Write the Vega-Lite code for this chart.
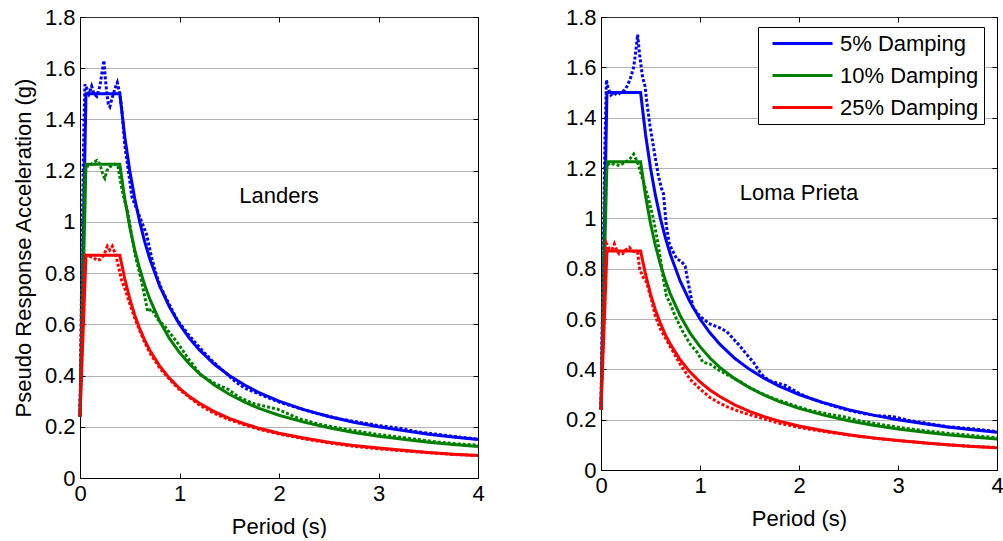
{
  "$schema": "https://vega.github.io/schema/vega-lite/v6.json",
  "background": "white",
  "padding": {"left": 12, "top": 5, "right": 0, "bottom": 0},
  "spacing": 79,
  "config": {
    "font": "Liberation Sans",
    "view": {"stroke": "black", "strokeWidth": 1},
    "axis": {
      "labelFont": "Liberation Sans", "labelFontSize": 22, "labelColor": "black", "labelFlush": false,
      "titleFont": "Liberation Sans", "titleFontSize": 22, "titleFontWeight": "normal", "titleColor": "black",
      "domainColor": "black", "tickColor": "black", "tickSize": -5,
      "gridColor": "#666666", "gridDash": [1, 1], "gridOpacity": 1, "gridWidth": 1
    },
    "axisX": {"grid": false, "titlePadding": 12, "labelPadding": 10},
    "axisY": {"titlePadding": 8.5, "labelPadding": 10},
    "text": {"font": "Liberation Sans", "fontSize": 22}
  },
  "resolve": {"scale": {"color": "independent"}},
  "datasets": {
    "target": [
      {"T": 0, "Sa": 0.24, "damping": "5% Damping"}, {"T": 0.06, "Sa": 1.5, "damping": "5% Damping"}, {"T": 0.4, "Sa": 1.5, "damping": "5% Damping"},
      {"T": 0.45, "Sa": 1.333, "damping": "5% Damping"}, {"T": 0.5, "Sa": 1.2, "damping": "5% Damping"}, {"T": 0.55, "Sa": 1.091, "damping": "5% Damping"},
      {"T": 0.6, "Sa": 1.0, "damping": "5% Damping"}, {"T": 0.65, "Sa": 0.923, "damping": "5% Damping"}, {"T": 0.7, "Sa": 0.857, "damping": "5% Damping"},
      {"T": 0.8, "Sa": 0.75, "damping": "5% Damping"}, {"T": 0.9, "Sa": 0.667, "damping": "5% Damping"}, {"T": 1.0, "Sa": 0.6, "damping": "5% Damping"},
      {"T": 1.1, "Sa": 0.545, "damping": "5% Damping"}, {"T": 1.2, "Sa": 0.5, "damping": "5% Damping"}, {"T": 1.35, "Sa": 0.444, "damping": "5% Damping"},
      {"T": 1.5, "Sa": 0.4, "damping": "5% Damping"}, {"T": 1.65, "Sa": 0.364, "damping": "5% Damping"}, {"T": 1.8, "Sa": 0.333, "damping": "5% Damping"},
      {"T": 2.0, "Sa": 0.3, "damping": "5% Damping"}, {"T": 2.25, "Sa": 0.267, "damping": "5% Damping"}, {"T": 2.5, "Sa": 0.24, "damping": "5% Damping"},
      {"T": 2.75, "Sa": 0.218, "damping": "5% Damping"}, {"T": 3.0, "Sa": 0.2, "damping": "5% Damping"}, {"T": 3.25, "Sa": 0.185, "damping": "5% Damping"},
      {"T": 3.5, "Sa": 0.171, "damping": "5% Damping"}, {"T": 3.75, "Sa": 0.16, "damping": "5% Damping"}, {"T": 4.0, "Sa": 0.15, "damping": "5% Damping"},

      {"T": 0, "Sa": 0.24, "damping": "10% Damping"}, {"T": 0.06, "Sa": 1.225, "damping": "10% Damping"}, {"T": 0.4, "Sa": 1.225, "damping": "10% Damping"},
      {"T": 0.45, "Sa": 1.089, "damping": "10% Damping"}, {"T": 0.5, "Sa": 0.98, "damping": "10% Damping"}, {"T": 0.55, "Sa": 0.891, "damping": "10% Damping"},
      {"T": 0.6, "Sa": 0.817, "damping": "10% Damping"}, {"T": 0.65, "Sa": 0.754, "damping": "10% Damping"}, {"T": 0.7, "Sa": 0.7, "damping": "10% Damping"},
      {"T": 0.8, "Sa": 0.613, "damping": "10% Damping"}, {"T": 0.9, "Sa": 0.544, "damping": "10% Damping"}, {"T": 1.0, "Sa": 0.49, "damping": "10% Damping"},
      {"T": 1.1, "Sa": 0.445, "damping": "10% Damping"}, {"T": 1.2, "Sa": 0.408, "damping": "10% Damping"}, {"T": 1.35, "Sa": 0.363, "damping": "10% Damping"},
      {"T": 1.5, "Sa": 0.327, "damping": "10% Damping"}, {"T": 1.65, "Sa": 0.297, "damping": "10% Damping"}, {"T": 1.8, "Sa": 0.272, "damping": "10% Damping"},
      {"T": 2.0, "Sa": 0.245, "damping": "10% Damping"}, {"T": 2.25, "Sa": 0.218, "damping": "10% Damping"}, {"T": 2.5, "Sa": 0.196, "damping": "10% Damping"},
      {"T": 2.75, "Sa": 0.178, "damping": "10% Damping"}, {"T": 3.0, "Sa": 0.163, "damping": "10% Damping"}, {"T": 3.25, "Sa": 0.151, "damping": "10% Damping"},
      {"T": 3.5, "Sa": 0.14, "damping": "10% Damping"}, {"T": 3.75, "Sa": 0.131, "damping": "10% Damping"}, {"T": 4.0, "Sa": 0.123, "damping": "10% Damping"},

      {"T": 0, "Sa": 0.24, "damping": "25% Damping"}, {"T": 0.06, "Sa": 0.87, "damping": "25% Damping"}, {"T": 0.4, "Sa": 0.87, "damping": "25% Damping"},
      {"T": 0.45, "Sa": 0.778, "damping": "25% Damping"}, {"T": 0.5, "Sa": 0.7, "damping": "25% Damping"}, {"T": 0.55, "Sa": 0.636, "damping": "25% Damping"},
      {"T": 0.6, "Sa": 0.583, "damping": "25% Damping"}, {"T": 0.65, "Sa": 0.538, "damping": "25% Damping"}, {"T": 0.7, "Sa": 0.5, "damping": "25% Damping"},
      {"T": 0.8, "Sa": 0.438, "damping": "25% Damping"}, {"T": 0.9, "Sa": 0.389, "damping": "25% Damping"}, {"T": 1.0, "Sa": 0.35, "damping": "25% Damping"},
      {"T": 1.1, "Sa": 0.318, "damping": "25% Damping"}, {"T": 1.2, "Sa": 0.292, "damping": "25% Damping"}, {"T": 1.35, "Sa": 0.259, "damping": "25% Damping"},
      {"T": 1.5, "Sa": 0.233, "damping": "25% Damping"}, {"T": 1.65, "Sa": 0.212, "damping": "25% Damping"}, {"T": 1.8, "Sa": 0.194, "damping": "25% Damping"},
      {"T": 2.0, "Sa": 0.175, "damping": "25% Damping"}, {"T": 2.25, "Sa": 0.156, "damping": "25% Damping"}, {"T": 2.5, "Sa": 0.14, "damping": "25% Damping"},
      {"T": 2.75, "Sa": 0.127, "damping": "25% Damping"}, {"T": 3.0, "Sa": 0.117, "damping": "25% Damping"}, {"T": 3.25, "Sa": 0.108, "damping": "25% Damping"},
      {"T": 3.5, "Sa": 0.1, "damping": "25% Damping"}, {"T": 3.75, "Sa": 0.093, "damping": "25% Damping"}, {"T": 4.0, "Sa": 0.088, "damping": "25% Damping"}
    ],
    "landers": [
      {"T": 0, "Sa": 0.24, "damping": "5% Damping"}, {"T": 0.02, "Sa": 0.9, "damping": "5% Damping"}, {"T": 0.04, "Sa": 1.4, "damping": "5% Damping"},
      {"T": 0.05, "Sa": 1.537, "damping": "5% Damping"}, {"T": 0.07, "Sa": 1.52, "damping": "5% Damping"}, {"T": 0.09, "Sa": 1.5, "damping": "5% Damping"},
      {"T": 0.117, "Sa": 1.53, "damping": "5% Damping"}, {"T": 0.14, "Sa": 1.5, "damping": "5% Damping"}, {"T": 0.168, "Sa": 1.49, "damping": "5% Damping"},
      {"T": 0.2, "Sa": 1.53, "damping": "5% Damping"}, {"T": 0.22, "Sa": 1.58, "damping": "5% Damping"}, {"T": 0.24, "Sa": 1.63, "damping": "5% Damping"},
      {"T": 0.255, "Sa": 1.56, "damping": "5% Damping"}, {"T": 0.27, "Sa": 1.5, "damping": "5% Damping"}, {"T": 0.285, "Sa": 1.46, "damping": "5% Damping"},
      {"T": 0.3, "Sa": 1.45, "damping": "5% Damping"}, {"T": 0.32, "Sa": 1.48, "damping": "5% Damping"}, {"T": 0.335, "Sa": 1.5, "damping": "5% Damping"},
      {"T": 0.36, "Sa": 1.53, "damping": "5% Damping"}, {"T": 0.375, "Sa": 1.544, "damping": "5% Damping"}, {"T": 0.4, "Sa": 1.5, "damping": "5% Damping"},
      {"T": 0.42, "Sa": 1.44, "damping": "5% Damping"}, {"T": 0.45, "Sa": 1.3, "damping": "5% Damping"}, {"T": 0.5, "Sa": 1.16, "damping": "5% Damping"},
      {"T": 0.52, "Sa": 1.1, "damping": "5% Damping"}, {"T": 0.55, "Sa": 1.07, "damping": "5% Damping"}, {"T": 0.58, "Sa": 1.04, "damping": "5% Damping"},
      {"T": 0.62, "Sa": 1.0, "damping": "5% Damping"}, {"T": 0.67, "Sa": 0.95, "damping": "5% Damping"}, {"T": 0.72, "Sa": 0.86, "damping": "5% Damping"},
      {"T": 0.77, "Sa": 0.79, "damping": "5% Damping"}, {"T": 0.817, "Sa": 0.74, "damping": "5% Damping"}, {"T": 0.9, "Sa": 0.675, "damping": "5% Damping"},
      {"T": 0.98, "Sa": 0.615, "damping": "5% Damping"}, {"T": 1.1, "Sa": 0.555, "damping": "5% Damping"}, {"T": 1.2, "Sa": 0.51, "damping": "5% Damping"},
      {"T": 1.32, "Sa": 0.46, "damping": "5% Damping"}, {"T": 1.45, "Sa": 0.415, "damping": "5% Damping"}, {"T": 1.55, "Sa": 0.38, "damping": "5% Damping"},
      {"T": 1.65, "Sa": 0.352, "damping": "5% Damping"}, {"T": 1.8, "Sa": 0.328, "damping": "5% Damping"}, {"T": 1.99, "Sa": 0.298, "damping": "5% Damping"},
      {"T": 2.2, "Sa": 0.272, "damping": "5% Damping"}, {"T": 2.4, "Sa": 0.25, "damping": "5% Damping"}, {"T": 2.6, "Sa": 0.232, "damping": "5% Damping"},
      {"T": 2.8, "Sa": 0.218, "damping": "5% Damping"}, {"T": 3.0, "Sa": 0.205, "damping": "5% Damping"}, {"T": 3.2, "Sa": 0.195, "damping": "5% Damping"},
      {"T": 3.4, "Sa": 0.18, "damping": "5% Damping"}, {"T": 3.6, "Sa": 0.17, "damping": "5% Damping"}, {"T": 3.8, "Sa": 0.16, "damping": "5% Damping"},
      {"T": 4.0, "Sa": 0.152, "damping": "5% Damping"},

      {"T": 0, "Sa": 0.24, "damping": "10% Damping"}, {"T": 0.02, "Sa": 0.75, "damping": "10% Damping"}, {"T": 0.04, "Sa": 1.15, "damping": "10% Damping"},
      {"T": 0.05, "Sa": 1.2, "damping": "10% Damping"}, {"T": 0.08, "Sa": 1.22, "damping": "10% Damping"}, {"T": 0.1, "Sa": 1.218, "damping": "10% Damping"},
      {"T": 0.13, "Sa": 1.23, "damping": "10% Damping"}, {"T": 0.17, "Sa": 1.24, "damping": "10% Damping"}, {"T": 0.2, "Sa": 1.225, "damping": "10% Damping"},
      {"T": 0.234, "Sa": 1.18, "damping": "10% Damping"}, {"T": 0.25, "Sa": 1.17, "damping": "10% Damping"}, {"T": 0.27, "Sa": 1.2, "damping": "10% Damping"},
      {"T": 0.3, "Sa": 1.215, "damping": "10% Damping"}, {"T": 0.35, "Sa": 1.225, "damping": "10% Damping"}, {"T": 0.38, "Sa": 1.22, "damping": "10% Damping"},
      {"T": 0.42, "Sa": 1.13, "damping": "10% Damping"}, {"T": 0.45, "Sa": 1.08, "damping": "10% Damping"}, {"T": 0.48, "Sa": 1.04, "damping": "10% Damping"},
      {"T": 0.52, "Sa": 0.945, "damping": "10% Damping"}, {"T": 0.56, "Sa": 0.86, "damping": "10% Damping"}, {"T": 0.6, "Sa": 0.8, "damping": "10% Damping"},
      {"T": 0.65, "Sa": 0.71, "damping": "10% Damping"}, {"T": 0.68, "Sa": 0.65, "damping": "10% Damping"}, {"T": 0.72, "Sa": 0.66, "damping": "10% Damping"},
      {"T": 0.78, "Sa": 0.62, "damping": "10% Damping"}, {"T": 0.85, "Sa": 0.593, "damping": "10% Damping"}, {"T": 0.98, "Sa": 0.528, "damping": "10% Damping"},
      {"T": 1.1, "Sa": 0.46, "damping": "10% Damping"}, {"T": 1.22, "Sa": 0.4, "damping": "10% Damping"}, {"T": 1.35, "Sa": 0.37, "damping": "10% Damping"},
      {"T": 1.49, "Sa": 0.346, "damping": "10% Damping"}, {"T": 1.6, "Sa": 0.315, "damping": "10% Damping"}, {"T": 1.75, "Sa": 0.29, "damping": "10% Damping"},
      {"T": 1.99, "Sa": 0.268, "damping": "10% Damping"}, {"T": 2.2, "Sa": 0.232, "damping": "10% Damping"}, {"T": 2.4, "Sa": 0.21, "damping": "10% Damping"},
      {"T": 2.6, "Sa": 0.195, "damping": "10% Damping"}, {"T": 2.8, "Sa": 0.182, "damping": "10% Damping"}, {"T": 3.0, "Sa": 0.17, "damping": "10% Damping"},
      {"T": 3.2, "Sa": 0.16, "damping": "10% Damping"}, {"T": 3.4, "Sa": 0.15, "damping": "10% Damping"}, {"T": 3.6, "Sa": 0.14, "damping": "10% Damping"},
      {"T": 3.8, "Sa": 0.133, "damping": "10% Damping"}, {"T": 4.0, "Sa": 0.128, "damping": "10% Damping"},

      {"T": 0, "Sa": 0.24, "damping": "25% Damping"}, {"T": 0.02, "Sa": 0.6, "damping": "25% Damping"}, {"T": 0.045, "Sa": 0.84, "damping": "25% Damping"},
      {"T": 0.06, "Sa": 0.87, "damping": "25% Damping"}, {"T": 0.1, "Sa": 0.865, "damping": "25% Damping"}, {"T": 0.14, "Sa": 0.86, "damping": "25% Damping"},
      {"T": 0.17, "Sa": 0.85, "damping": "25% Damping"}, {"T": 0.2, "Sa": 0.853, "damping": "25% Damping"}, {"T": 0.24, "Sa": 0.87, "damping": "25% Damping"},
      {"T": 0.275, "Sa": 0.905, "damping": "25% Damping"}, {"T": 0.3, "Sa": 0.89, "damping": "25% Damping"}, {"T": 0.325, "Sa": 0.905, "damping": "25% Damping"},
      {"T": 0.36, "Sa": 0.87, "damping": "25% Damping"}, {"T": 0.39, "Sa": 0.82, "damping": "25% Damping"}, {"T": 0.42, "Sa": 0.77, "damping": "25% Damping"},
      {"T": 0.46, "Sa": 0.73, "damping": "25% Damping"}, {"T": 0.5, "Sa": 0.68, "damping": "25% Damping"}, {"T": 0.55, "Sa": 0.625, "damping": "25% Damping"},
      {"T": 0.6, "Sa": 0.575, "damping": "25% Damping"}, {"T": 0.65, "Sa": 0.53, "damping": "25% Damping"}, {"T": 0.7, "Sa": 0.49, "damping": "25% Damping"},
      {"T": 0.8, "Sa": 0.43, "damping": "25% Damping"}, {"T": 0.9, "Sa": 0.385, "damping": "25% Damping"}, {"T": 1.0, "Sa": 0.345, "damping": "25% Damping"},
      {"T": 1.1, "Sa": 0.315, "damping": "25% Damping"}, {"T": 1.2, "Sa": 0.285, "damping": "25% Damping"}, {"T": 1.35, "Sa": 0.252, "damping": "25% Damping"},
      {"T": 1.5, "Sa": 0.228, "damping": "25% Damping"}, {"T": 1.65, "Sa": 0.208, "damping": "25% Damping"}, {"T": 1.8, "Sa": 0.19, "damping": "25% Damping"},
      {"T": 2.0, "Sa": 0.172, "damping": "25% Damping"}, {"T": 2.25, "Sa": 0.153, "damping": "25% Damping"}, {"T": 2.5, "Sa": 0.137, "damping": "25% Damping"},
      {"T": 2.75, "Sa": 0.124, "damping": "25% Damping"}, {"T": 3.0, "Sa": 0.114, "damping": "25% Damping"}, {"T": 3.25, "Sa": 0.106, "damping": "25% Damping"},
      {"T": 3.5, "Sa": 0.099, "damping": "25% Damping"}, {"T": 3.75, "Sa": 0.092, "damping": "25% Damping"}, {"T": 4.0, "Sa": 0.088, "damping": "25% Damping"}
    ],
    "loma": [
      {"T": 0, "Sa": 0.24, "damping": "5% Damping"}, {"T": 0.02, "Sa": 0.8, "damping": "5% Damping"}, {"T": 0.04, "Sa": 1.3, "damping": "5% Damping"},
      {"T": 0.055, "Sa": 1.55, "damping": "5% Damping"}, {"T": 0.07, "Sa": 1.52, "damping": "5% Damping"}, {"T": 0.1, "Sa": 1.49, "damping": "5% Damping"},
      {"T": 0.13, "Sa": 1.5, "damping": "5% Damping"}, {"T": 0.16, "Sa": 1.49, "damping": "5% Damping"}, {"T": 0.2, "Sa": 1.5, "damping": "5% Damping"},
      {"T": 0.24, "Sa": 1.51, "damping": "5% Damping"}, {"T": 0.27, "Sa": 1.53, "damping": "5% Damping"}, {"T": 0.3, "Sa": 1.56, "damping": "5% Damping"},
      {"T": 0.33, "Sa": 1.6, "damping": "5% Damping"}, {"T": 0.35, "Sa": 1.66, "damping": "5% Damping"}, {"T": 0.37, "Sa": 1.73, "damping": "5% Damping"},
      {"T": 0.39, "Sa": 1.65, "damping": "5% Damping"}, {"T": 0.42, "Sa": 1.56, "damping": "5% Damping"}, {"T": 0.444, "Sa": 1.527, "damping": "5% Damping"},
      {"T": 0.47, "Sa": 1.44, "damping": "5% Damping"}, {"T": 0.495, "Sa": 1.368, "damping": "5% Damping"}, {"T": 0.54, "Sa": 1.26, "damping": "5% Damping"},
      {"T": 0.58, "Sa": 1.169, "damping": "5% Damping"}, {"T": 0.61, "Sa": 1.12, "damping": "5% Damping"}, {"T": 0.63, "Sa": 1.1, "damping": "5% Damping"},
      {"T": 0.66, "Sa": 0.97, "damping": "5% Damping"}, {"T": 0.69, "Sa": 0.9, "damping": "5% Damping"}, {"T": 0.714, "Sa": 0.878, "damping": "5% Damping"},
      {"T": 0.765, "Sa": 0.838, "damping": "5% Damping"}, {"T": 0.81, "Sa": 0.83, "damping": "5% Damping"}, {"T": 0.85, "Sa": 0.81, "damping": "5% Damping"},
      {"T": 0.88, "Sa": 0.746, "damping": "5% Damping"}, {"T": 0.93, "Sa": 0.646, "damping": "5% Damping"}, {"T": 1.0, "Sa": 0.61, "damping": "5% Damping"},
      {"T": 1.1, "Sa": 0.58, "damping": "5% Damping"}, {"T": 1.2, "Sa": 0.565, "damping": "5% Damping"}, {"T": 1.27, "Sa": 0.55, "damping": "5% Damping"},
      {"T": 1.34, "Sa": 0.52, "damping": "5% Damping"}, {"T": 1.4, "Sa": 0.494, "damping": "5% Damping"}, {"T": 1.47, "Sa": 0.46, "damping": "5% Damping"},
      {"T": 1.54, "Sa": 0.428, "damping": "5% Damping"}, {"T": 1.62, "Sa": 0.38, "damping": "5% Damping"}, {"T": 1.7, "Sa": 0.355, "damping": "5% Damping"},
      {"T": 1.87, "Sa": 0.335, "damping": "5% Damping"}, {"T": 2.0, "Sa": 0.305, "damping": "5% Damping"}, {"T": 2.11, "Sa": 0.285, "damping": "5% Damping"},
      {"T": 2.3, "Sa": 0.26, "damping": "5% Damping"}, {"T": 2.45, "Sa": 0.242, "damping": "5% Damping"}, {"T": 2.6, "Sa": 0.228, "damping": "5% Damping"},
      {"T": 2.78, "Sa": 0.216, "damping": "5% Damping"}, {"T": 2.95, "Sa": 0.212, "damping": "5% Damping"}, {"T": 3.1, "Sa": 0.198, "damping": "5% Damping"},
      {"T": 3.3, "Sa": 0.185, "damping": "5% Damping"}, {"T": 3.5, "Sa": 0.172, "damping": "5% Damping"}, {"T": 3.78, "Sa": 0.163, "damping": "5% Damping"},
      {"T": 4.0, "Sa": 0.152, "damping": "5% Damping"},

      {"T": 0, "Sa": 0.24, "damping": "10% Damping"}, {"T": 0.02, "Sa": 0.7, "damping": "10% Damping"}, {"T": 0.04, "Sa": 1.1, "damping": "10% Damping"},
      {"T": 0.06, "Sa": 1.21, "damping": "10% Damping"}, {"T": 0.09, "Sa": 1.22, "damping": "10% Damping"}, {"T": 0.13, "Sa": 1.215, "damping": "10% Damping"},
      {"T": 0.19, "Sa": 1.21, "damping": "10% Damping"}, {"T": 0.23, "Sa": 1.22, "damping": "10% Damping"}, {"T": 0.27, "Sa": 1.23, "damping": "10% Damping"},
      {"T": 0.3, "Sa": 1.24, "damping": "10% Damping"}, {"T": 0.33, "Sa": 1.255, "damping": "10% Damping"}, {"T": 0.36, "Sa": 1.23, "damping": "10% Damping"},
      {"T": 0.38, "Sa": 1.21, "damping": "10% Damping"}, {"T": 0.43, "Sa": 1.143, "damping": "10% Damping"}, {"T": 0.48, "Sa": 1.077, "damping": "10% Damping"},
      {"T": 0.53, "Sa": 0.997, "damping": "10% Damping"}, {"T": 0.58, "Sa": 0.891, "damping": "10% Damping"}, {"T": 0.6, "Sa": 0.838, "damping": "10% Damping"},
      {"T": 0.63, "Sa": 0.76, "damping": "10% Damping"}, {"T": 0.66, "Sa": 0.692, "damping": "10% Damping"}, {"T": 0.7, "Sa": 0.66, "damping": "10% Damping"},
      {"T": 0.75, "Sa": 0.61, "damping": "10% Damping"}, {"T": 0.83, "Sa": 0.547, "damping": "10% Damping"}, {"T": 0.9, "Sa": 0.5, "damping": "10% Damping"},
      {"T": 0.97, "Sa": 0.468, "damping": "10% Damping"}, {"T": 1.03, "Sa": 0.428, "damping": "10% Damping"}, {"T": 1.1, "Sa": 0.421, "damping": "10% Damping"},
      {"T": 1.2, "Sa": 0.395, "damping": "10% Damping"}, {"T": 1.27, "Sa": 0.38, "damping": "10% Damping"}, {"T": 1.4, "Sa": 0.352, "damping": "10% Damping"},
      {"T": 1.5, "Sa": 0.328, "damping": "10% Damping"}, {"T": 1.61, "Sa": 0.306, "damping": "10% Damping"}, {"T": 1.75, "Sa": 0.283, "damping": "10% Damping"},
      {"T": 1.94, "Sa": 0.258, "damping": "10% Damping"}, {"T": 2.1, "Sa": 0.238, "damping": "10% Damping"}, {"T": 2.3, "Sa": 0.222, "damping": "10% Damping"},
      {"T": 2.45, "Sa": 0.212, "damping": "10% Damping"}, {"T": 2.6, "Sa": 0.197, "damping": "10% Damping"}, {"T": 2.78, "Sa": 0.184, "damping": "10% Damping"},
      {"T": 3.0, "Sa": 0.17, "damping": "10% Damping"}, {"T": 3.25, "Sa": 0.157, "damping": "10% Damping"}, {"T": 3.5, "Sa": 0.146, "damping": "10% Damping"},
      {"T": 3.75, "Sa": 0.137, "damping": "10% Damping"}, {"T": 4.0, "Sa": 0.128, "damping": "10% Damping"},

      {"T": 0, "Sa": 0.24, "damping": "25% Damping"}, {"T": 0.02, "Sa": 0.55, "damping": "25% Damping"}, {"T": 0.04, "Sa": 0.8, "damping": "25% Damping"},
      {"T": 0.055, "Sa": 0.9, "damping": "25% Damping"}, {"T": 0.08, "Sa": 0.88, "damping": "25% Damping"}, {"T": 0.11, "Sa": 0.875, "damping": "25% Damping"},
      {"T": 0.135, "Sa": 0.898, "damping": "25% Damping"}, {"T": 0.16, "Sa": 0.87, "damping": "25% Damping"}, {"T": 0.185, "Sa": 0.858, "damping": "25% Damping"},
      {"T": 0.22, "Sa": 0.86, "damping": "25% Damping"}, {"T": 0.25, "Sa": 0.875, "damping": "25% Damping"}, {"T": 0.285, "Sa": 0.885, "damping": "25% Damping"},
      {"T": 0.32, "Sa": 0.87, "damping": "25% Damping"}, {"T": 0.37, "Sa": 0.865, "damping": "25% Damping"}, {"T": 0.39, "Sa": 0.8, "damping": "25% Damping"},
      {"T": 0.42, "Sa": 0.77, "damping": "25% Damping"}, {"T": 0.46, "Sa": 0.746, "damping": "25% Damping"}, {"T": 0.5, "Sa": 0.69, "damping": "25% Damping"},
      {"T": 0.55, "Sa": 0.61, "damping": "25% Damping"}, {"T": 0.6, "Sa": 0.56, "damping": "25% Damping"}, {"T": 0.65, "Sa": 0.525, "damping": "25% Damping"},
      {"T": 0.7, "Sa": 0.49, "damping": "25% Damping"}, {"T": 0.8, "Sa": 0.42, "damping": "25% Damping"}, {"T": 0.9, "Sa": 0.36, "damping": "25% Damping"},
      {"T": 1.0, "Sa": 0.322, "damping": "25% Damping"}, {"T": 1.1, "Sa": 0.288, "damping": "25% Damping"}, {"T": 1.2, "Sa": 0.265, "damping": "25% Damping"},
      {"T": 1.27, "Sa": 0.252, "damping": "25% Damping"}, {"T": 1.4, "Sa": 0.232, "damping": "25% Damping"}, {"T": 1.5, "Sa": 0.22, "damping": "25% Damping"},
      {"T": 1.61, "Sa": 0.207, "damping": "25% Damping"}, {"T": 1.8, "Sa": 0.186, "damping": "25% Damping"}, {"T": 1.94, "Sa": 0.174, "damping": "25% Damping"},
      {"T": 2.1, "Sa": 0.162, "damping": "25% Damping"}, {"T": 2.3, "Sa": 0.15, "damping": "25% Damping"}, {"T": 2.45, "Sa": 0.142, "damping": "25% Damping"},
      {"T": 2.6, "Sa": 0.134, "damping": "25% Damping"}, {"T": 2.78, "Sa": 0.126, "damping": "25% Damping"}, {"T": 3.0, "Sa": 0.117, "damping": "25% Damping"},
      {"T": 3.25, "Sa": 0.108, "damping": "25% Damping"}, {"T": 3.5, "Sa": 0.1, "damping": "25% Damping"}, {"T": 3.75, "Sa": 0.094, "damping": "25% Damping"},
      {"T": 4.0, "Sa": 0.089, "damping": "25% Damping"}
    ]
  },
  "hconcat": [
    {
      "width": 398,
      "height": 461,
      "resolve": {"axis": {"x": "independent", "y": "independent"}},
      "layer": [
        {
          "data": {"name": "target"},
          "mark": {"type": "line", "strokeWidth": 3},
          "encoding": {
            "x": {"field": "T", "type": "quantitative", "scale": {"domain": [0, 4], "nice": false, "zero": false}, "axis": {"values": [0, 1, 2, 3, 4], "title": "Period (s)"}},
            "y": {"field": "Sa", "type": "quantitative", "scale": {"domain": [0, 1.8], "nice": false}, "axis": {"values": [0, 0.2, 0.4, 0.6, 0.8, 1, 1.2, 1.4, 1.6, 1.8], "format": "~g", "grid": true, "title": "Pseudo Response Acceleration (g)"}},
            "color": {"field": "damping", "type": "nominal", "scale": {"domain": ["5% Damping", "10% Damping", "25% Damping"], "range": ["#0000ff", "#008000", "#ff0000"]}, "legend": null}
          }
        },
        {
          "data": {"name": "landers"},
          "mark": {"type": "line", "strokeWidth": 3, "strokeDash": [3, 2]},
          "encoding": {
            "x": {"field": "T", "type": "quantitative", "axis": {"orient": "top", "values": [0, 1, 2, 3, 4], "labels": false, "domain": false, "grid": false, "title": null}},
            "y": {"field": "Sa", "type": "quantitative", "axis": {"orient": "right", "values": [0, 0.2, 0.4, 0.6, 0.8, 1, 1.2, 1.4, 1.6, 1.8], "labels": false, "domain": false, "grid": false, "title": null}},
            "color": {"field": "damping", "type": "nominal", "scale": {"domain": ["5% Damping", "10% Damping", "25% Damping"], "range": ["#0000ff", "#008000", "#ff0000"]}, "legend": null}
          }
        },
        {
          "data": {"values": [{}]},
          "mark": {"type": "text", "align": "center", "baseline": "middle", "color": "black"},
          "encoding": {"x": {"datum": 2, "axis": null}, "y": {"datum": 1.1, "axis": null}, "text": {"value": "Landers"}}
        }
      ]
    },
    {
      "width": 396,
      "height": 453,
      "resolve": {"axis": {"x": "independent", "y": "independent"}},
      "layer": [
        {
          "data": {"name": "target"},
          "mark": {"type": "line", "strokeWidth": 3},
          "encoding": {
            "x": {"field": "T", "type": "quantitative", "scale": {"domain": [0, 4], "nice": false, "zero": false}, "axis": {"values": [0, 1, 2, 3, 4], "title": "Period (s)"}},
            "y": {"field": "Sa", "type": "quantitative", "scale": {"domain": [0, 1.8], "nice": false}, "axis": {"values": [0, 0.2, 0.4, 0.6, 0.8, 1, 1.2, 1.4, 1.6, 1.8], "format": "~g", "grid": true, "title": null}},
            "color": {
              "field": "damping", "type": "nominal",
              "scale": {"domain": ["5% Damping", "10% Damping", "25% Damping"], "range": ["#0000ff", "#008000", "#ff0000"]},
              "legend": {
                "title": null, "orient": "none", "legendX": 157, "legendY": 10,
                "symbolType": "M-3,0H3", "symbolSize": 400, "symbolStrokeWidth": 3, "symbolOffset": 28, "labelOffset": 26,
                "labelFont": "Liberation Sans", "labelFontSize": 22, "labelColor": "black", "labelLimit": 400,
                "strokeColor": "black", "fillColor": "white", "padding": 5, "rowPadding": 9
              }
            }
          }
        },
        {
          "data": {"name": "loma"},
          "mark": {"type": "line", "strokeWidth": 3, "strokeDash": [3, 2]},
          "encoding": {
            "x": {"field": "T", "type": "quantitative", "axis": {"orient": "top", "values": [0, 1, 2, 3, 4], "labels": false, "domain": false, "grid": false, "title": null}},
            "y": {"field": "Sa", "type": "quantitative", "axis": {"orient": "right", "values": [0, 0.2, 0.4, 0.6, 0.8, 1, 1.2, 1.4, 1.6, 1.8], "labels": false, "domain": false, "grid": false, "title": null}},
            "color": {"field": "damping", "type": "nominal", "scale": {"domain": ["5% Damping", "10% Damping", "25% Damping"], "range": ["#0000ff", "#008000", "#ff0000"]}, "legend": null}
          }
        },
        {
          "data": {"values": [{}]},
          "mark": {"type": "text", "align": "center", "baseline": "middle", "color": "black"},
          "encoding": {"x": {"datum": 2, "axis": null}, "y": {"datum": 1.1, "axis": null}, "text": {"value": "Loma Prieta"}}
        }
      ]
    }
  ]
}
